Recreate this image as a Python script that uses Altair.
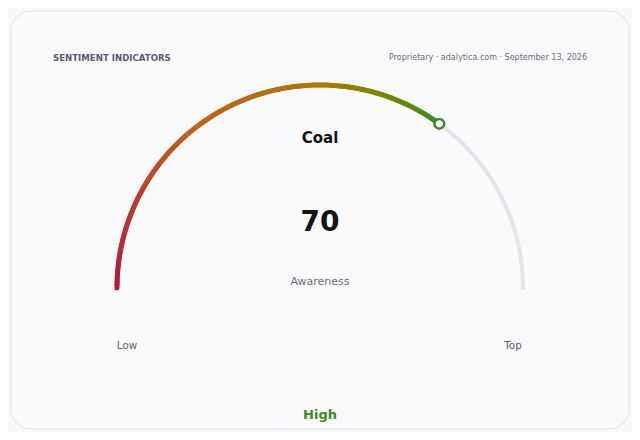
import altair as alt
import pandas as pd

# ---- data ----
TITLE = "Coal"
METRIC = "Awareness"
VALUE = 70
MIN_V = 0
MAX_V = 100
LOW_LABEL = "Low"
TOP_LABEL = "Top"
STATUS = "High"
HEADER_LEFT = "SENTIMENT INDICATORS"
HEADER_RIGHT = "Proprietary · adalytica.com · September 13, 2026"
GRAD_STOPS = [0, 30, 50, 70]
GRAD_COLORS = ["#b0173f", "#c0621c", "#ab7812", "#3d8b2a"]

FONT = "DejaVu Sans"
W, H = 624, 424
CX, CY, R = 312, 280, 203  # gauge centre / radius in chart pixels

xs = alt.Scale(domain=[-CX / R, (W - CX) / R], nice=False, zero=False)
ys = alt.Scale(domain=[-(H - CY) / R, CY / R], nice=False, zero=False)

card = alt.Chart(pd.DataFrame({"a": [0]})).mark_rect(
    cornerRadius=20, fill="#fafafd", stroke="#e0e0ea", strokeWidth=1
).encode(x=alt.value(3), x2=alt.value(621), y=alt.value(3), y2=alt.value(421))

def arc_layer(stop, step, width, color=None):
    base = alt.Chart(alt.sequence(MIN_V, stop, step, as_="v")).transform_calculate(
        a1=f"PI*(1-(datum.v-{MIN_V})/({MAX_V}-{MIN_V}))",
        a2=f"PI*(1-(datum.v+{step}-{MIN_V})/({MAX_V}-{MIN_V}))",
    ).transform_calculate(
        x="cos(datum.a1)", y="sin(datum.a1)", x2="cos(datum.a2)", y2="sin(datum.a2)"
    )
    enc = dict(
        x=alt.X("x:Q", scale=xs, axis=None),
        y=alt.Y("y:Q", scale=ys, axis=None),
        x2="x2:Q",
        y2="y2:Q",
    )
    if color is None:
        enc["color"] = alt.Color(
            "v:Q", scale=alt.Scale(domain=GRAD_STOPS, range=GRAD_COLORS), legend=None
        )
        return base.mark_rule(strokeWidth=width, strokeCap="round").encode(**enc)
    return base.mark_rule(strokeWidth=width, strokeCap="round", color=color).encode(**enc)

track = arc_layer(MAX_V, 1, 4, color="#e4e4e9")
value_arc = arc_layer(VALUE, 0.5, 5)

marker = alt.Chart(pd.DataFrame({"v": [VALUE]})).transform_calculate(
    a=f"PI*(1-(datum.v-{MIN_V})/({MAX_V}-{MIN_V}))"
).transform_calculate(x="cos(datum.a)", y="sin(datum.a)").mark_point(
    shape="circle", filled=True, fill="#ffffff", stroke="#3d8b2a",
    strokeWidth=2.5, size=95, opacity=1
).encode(x=alt.X("x:Q", scale=xs, axis=None), y=alt.Y("y:Q", scale=ys, axis=None))

def txt(text, x, y, size, color, bold=False, align="center"):
    kw = dict(fontSize=size, color=color, font=FONT, align=align, baseline="middle",
              fontWeight="bold" if bold else "normal")
    return alt.Chart(pd.DataFrame({"t": [text]})).mark_text(**kw).encode(
        text="t:N", x=alt.value(x), y=alt.value(y)
    )

texts = [
    txt(HEADER_LEFT, 45, 50, 8.6, "#5b5b72", bold=True, align="left"),
    txt(HEADER_RIGHT, 579, 50, 8, "#6a6a7c", align="right"),
    txt(TITLE, 312, 130, 15, "#141414", bold=True),
    txt(str(VALUE), 312, 215, 28, "#141414", bold=True),
    txt(METRIC, 312, 274, 11, "#6b6b78"),
    txt(LOW_LABEL, 119, 338, 10.3, "#5e5e66"),
    txt(TOP_LABEL, 505, 338, 10.3, "#5e5e66"),
    txt(STATUS, 312, 407, 13, "#3d8b2a", bold=True),
]

chart = alt.layer(card, track, value_arc, marker, *texts).properties(
    width=W, height=H, background="#f7f7fb", padding=0,
    autosize=alt.AutoSizeParams(type="none"),
).configure_view(stroke=None)

chart.save("out.html", embed_options={"renderer": "svg", "actions": False})
